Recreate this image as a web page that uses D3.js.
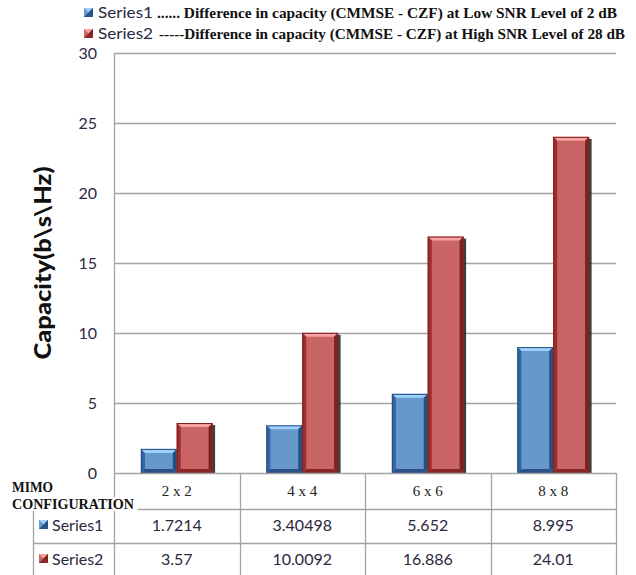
<!DOCTYPE html>
<html>
<head>
<meta charset="utf-8">
<script src="https://cdn.jsdelivr.net/npm/d3@7"></script>
<style>
  html, body { margin: 0; padding: 0; background: #fff; }
  svg { display: block; }
</style>
</head>
<body>
<svg id="chart" width="636" height="575"></svg>
<script>
// MIMO capacity difference (CMMSE - CZF) per antenna configuration
const categories = ["2 x 2", "4 x 4", "6 x 6", "8 x 8"];
const seriesNames = ["Series1", "Series2"];
const series1 = [1.7214, 3.40498, 5.652, 8.995];
const series2 = [3.57, 10.0092, 16.886, 24.01];
const yTicks = [0, 5, 10, 15, 20, 25, 30];
const legendNotes = [
  "...... Difference in capacity (CMMSE - CZF) at Low SNR  Level  of 2 dB",
  "-----Difference in capacity (CMMSE - CZF) at High SNR Level of 28 dB"
];
const yTitle = "Capacity(b\\s\\Hz)";
const tableTitle = ["MIMO", "CONFIGURATION"];

(function () {
const SANS = "Lato, 'Noto Sans', sans-serif";
const SERIF = "'Liberation Serif', 'Times New Roman', serif";
const TXT = "#2c2840";
const GRID = "#a3a3a3";

const palettes = [
  { main: "#6698cc", top: "#9dd0fa", left: "#3465a6", right: "#284f82", bottom: "#2a5288", edge: "#244c80" },
  { main: "#c96565", top: "#f8a2a2", left: "#a02c2c", right: "#7c2020", bottom: "#882626", edge: "#7a2222" }
];

const svg = d3.select("#chart");
const plotLeft = 114, plotRight = 616, plotTop = 53, plotBase = 473;
const rowY = [473, 509, 543, 580];

const y = d3.scaleLinear().domain([0, 30]).range([plotBase, plotTop]);
const x0 = d3.scaleBand().domain(categories).range([plotLeft, plotRight]);
const bw = x0.bandwidth();
const gap = bw * 1.5 / 3.5;
const x1 = d3.scaleBand().domain(seriesNames).range([gap / 2, bw - gap / 2]);

// gridlines
svg.append("g").selectAll("line").data(yTicks.filter(t => t > 0)).join("line")
  .attr("x1", plotLeft).attr("x2", plotRight)
  .attr("y1", d => Math.round(y(d)) + 0.5).attr("y2", d => Math.round(y(d)) + 0.5)
  .attr("stroke", GRID).attr("stroke-width", 1.3);

// y axis via d3.axisLeft, styled without domain/ticks
const yAxis = svg.append("g").attr("transform", `translate(${plotLeft - 17},0)`)
  .call(d3.axisLeft(y).tickValues(yTicks).tickSize(0).tickPadding(0));
yAxis.select(".domain").remove();
yAxis.selectAll("text").attr("font-family", SANS).attr("font-size", 16)
  .attr("fill", TXT).attr("dy", "0.36em");

svg.append("line").attr("x1", plotLeft + 0.5).attr("x2", plotLeft + 0.5)
  .attr("y1", plotTop).attr("y2", 580).attr("stroke", GRID).attr("stroke-width", 1.3);

// y axis title
svg.append("text")
  .attr("transform", `translate(51,263) rotate(-90)`)
  .attr("text-anchor", "middle")
  .attr("font-family", SANS).attr("font-weight", 900).attr("font-size", 22)
  .attr("fill", "#111")
  .attr("textLength", 193).attr("lengthAdjust", "spacingAndGlyphs")
  .text(yTitle);

// bevelled bar
function bevelBar(g, x, yTop, w, h, p) {
  const b = Math.min(4, h / 2);
  g.append("rect").attr("x", x + w - 0.5).attr("y", yTop + 2).attr("width", 3).attr("height", h - 2)
    .attr("fill", "#1c1c1c").attr("opacity", 0.85);
  g.append("rect").attr("x", x).attr("y", yTop).attr("width", w).attr("height", h).attr("fill", p.main);
  const poly = (pts, fill) => g.append("polygon").attr("points", pts.map(q => q.join(",")).join(" ")).attr("fill", fill);
  poly([[x, yTop], [x + w, yTop], [x + w - b, yTop + b], [x + b, yTop + b]], p.top);
  poly([[x, yTop], [x + b, yTop + b], [x + b, yTop + h - b], [x, yTop + h]], p.left);
  poly([[x + w, yTop], [x + w, yTop + h], [x + w - b, yTop + h - b], [x + w - b, yTop + b]], p.right);
  poly([[x, yTop + h], [x + b, yTop + h - b], [x + w - b, yTop + h - b], [x + w, yTop + h]], p.bottom);
  g.append("rect").attr("x", x + 0.5).attr("y", yTop + 0.5).attr("width", w - 1).attr("height", h - 1)
    .attr("fill", "none").attr("stroke", p.edge).attr("stroke-width", 1);
}

const seriesData = [series1, series2];
const bars = svg.append("g");
categories.forEach((c, i) => {
  seriesData.forEach((vals, s) => {
    const v = vals[i];
    const bx = x0(c) + x1(seriesNames[s]);
    bevelBar(bars, bx, y(v), x1.bandwidth(), y(0) - y(v), palettes[s]);
  });
});

// data table
const tbl = svg.append("g").attr("stroke", GRID).attr("stroke-width", 1.3);
tbl.append("line").attr("x1", plotLeft).attr("x2", plotRight).attr("y1", rowY[0] + 0.5).attr("y2", rowY[0] + 0.5);
[rowY[1], rowY[2]].forEach(yy => tbl.append("line").attr("x1", 33).attr("x2", plotRight)
  .attr("y1", yy + 0.5).attr("y2", yy + 0.5));
tbl.append("line").attr("x1", 33.5).attr("x2", 33.5).attr("y1", rowY[1]).attr("y2", 580);
categories.forEach(c => {
  const xx = Math.round(x0(c) + bw) + 0.5;
  tbl.append("line").attr("x1", xx).attr("x2", xx).attr("y1", rowY[0]).attr("y2", 580);
});

// category headers
svg.append("g").selectAll("text").data(categories).join("text")
  .attr("x", d => x0(d) + bw / 2).attr("y", 496)
  .attr("text-anchor", "middle").attr("font-family", SERIF).attr("font-size", 15)
  .attr("fill", "#222").text(d => d);

// table title with white backing
svg.append("rect").attr("x", 10).attr("y", 497).attr("width", 128).attr("height", 14).attr("fill", "#fff");
svg.append("text").attr("x", 12).attr("y", 492).attr("font-family", SERIF).attr("font-weight", "bold")
  .attr("font-size", 15).attr("fill", "#111")
  .attr("textLength", 41).attr("lengthAdjust", "spacingAndGlyphs").text(tableTitle[0]);
svg.append("text").attr("x", 12).attr("y", 509).attr("font-family", SERIF).attr("font-weight", "bold")
  .attr("font-size", 15).attr("fill", "#111")
  .attr("textLength", 122).attr("lengthAdjust", "spacingAndGlyphs").text(tableTitle[1]);

// legend key square
function key(x, yy, p) {
  const g = svg.append("g");
  g.append("rect").attr("x", x).attr("y", yy).attr("width", 9).attr("height", 9).attr("fill", p.main);
  g.append("polygon").attr("points", `${x},${yy} ${x + 9},${yy} ${x + 4.5},${yy + 4.5}`).attr("fill", p.top);
  g.append("polygon").attr("points", `${x + 9},${yy} ${x + 9},${yy + 9} ${x + 4.5},${yy + 4.5}`).attr("fill", p.right);
  g.append("polygon").attr("points", `${x},${yy + 9} ${x + 9},${yy + 9} ${x + 4.5},${yy + 4.5}`).attr("fill", p.bottom);
}

// table value rows
const rowBase = [531, 565];
seriesData.forEach((vals, s) => {
  key(39, rowBase[s] - 11, palettes[s]);
  svg.append("text").attr("x", 52).attr("y", rowBase[s]).attr("font-family", SANS).attr("font-size", 16)
    .attr("fill", TXT).text(seriesNames[s]);
  svg.append("g").selectAll("text").data(vals).join("text")
    .attr("x", (d, i) => x0(categories[i]) + bw / 2).attr("y", rowBase[s])
    .attr("text-anchor", "middle").attr("font-family", SANS).attr("font-size", 16)
    .attr("fill", TXT).text(d => String(d));
});

// top legend
const legBase = [18, 39];
const legEnds = [617, 625];
const legStarts = [157, 159];
seriesNames.forEach((n, s) => {
  key(84, legBase[s] - 10, palettes[s]);
  svg.append("text").attr("x", 98).attr("y", legBase[s]).attr("font-family", SANS).attr("font-size", 16)
    .attr("fill", TXT).attr("textLength", 55).attr("lengthAdjust", "spacingAndGlyphs").text(n);
  svg.append("text").attr("x", legStarts[s]).attr("y", legBase[s]).attr("font-family", SERIF)
    .attr("font-weight", "bold").attr("font-size", 15.5).attr("fill", "#111")
    .attr("textLength", legEnds[s] - legStarts[s]).attr("lengthAdjust", "spacingAndGlyphs")
    .text(legendNotes[s]);
});
})();
</script>
</body>
</html>
